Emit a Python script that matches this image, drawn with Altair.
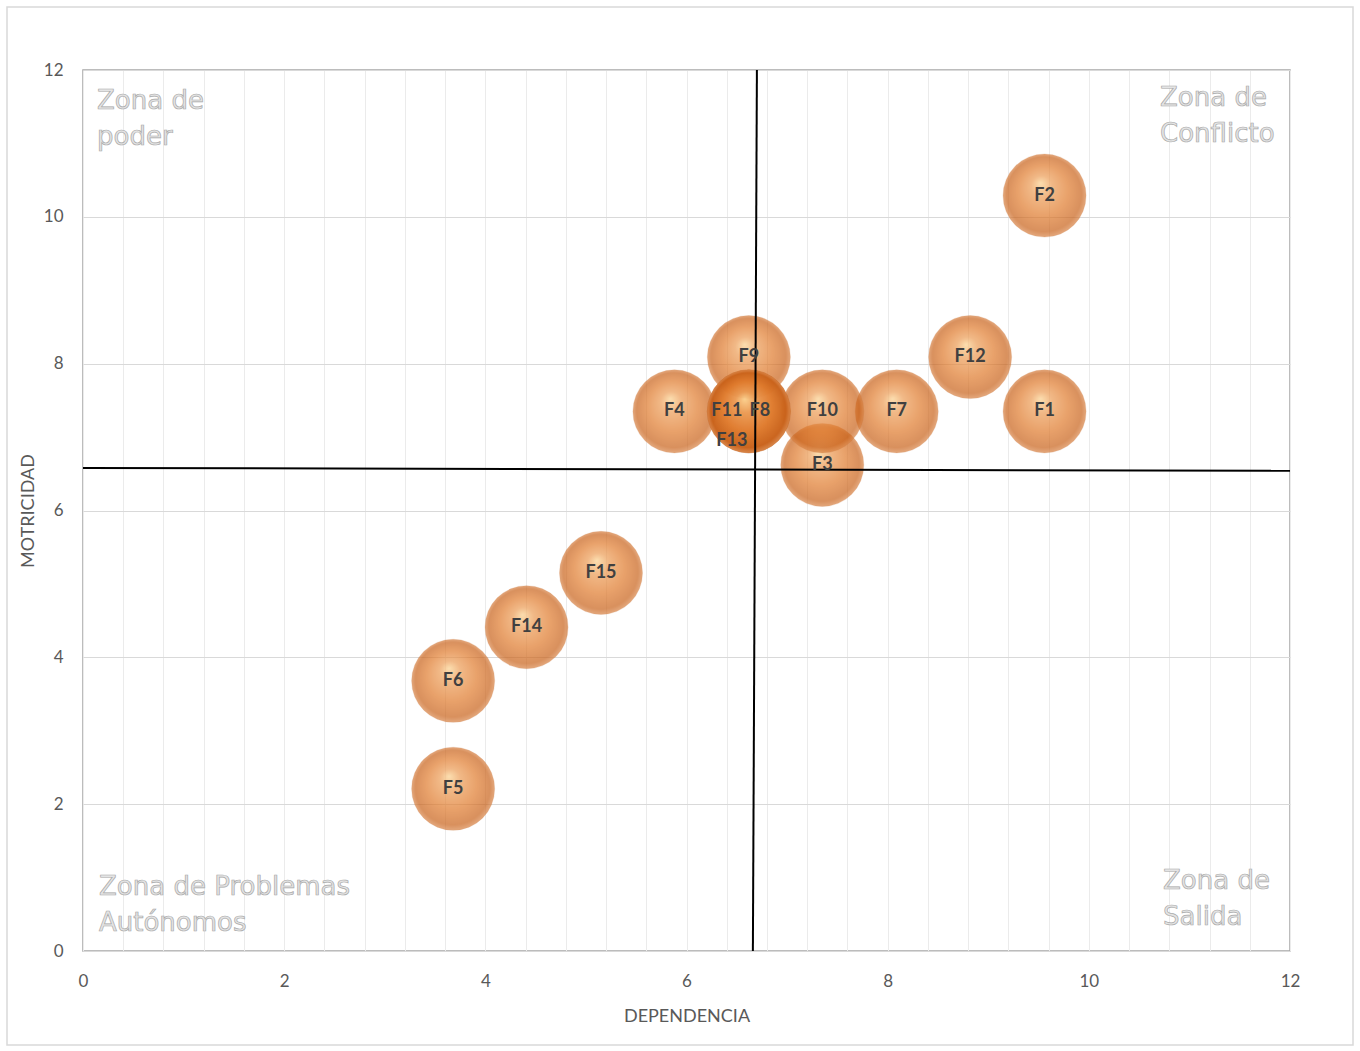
import altair as alt
import pandas as pd

labels = ["F1", "F2", "F3", "F4", "F5", "F6", "F7", "F8", "F9", "F10",
          "F11", "F12", "F13", "F14", "F15"]
dependencia = [9.56, 9.56, 7.35, 5.88, 3.68, 3.68, 8.09, 6.62, 6.62, 7.35,
               6.62, 8.82, 6.62, 4.41, 5.15]
motricidad = [7.35, 10.29, 6.62, 7.35, 2.21, 3.68, 7.35, 7.35, 8.09, 7.35,
              7.35, 8.09, 7.35, 4.41, 5.15]

vline_x = [6.70, 6.66]   # top, bottom
hline_y = [6.58, 6.54]   # left, right

x_grid = [round(i * 0.4, 1) for i in range(31)]
y_ticks = [0, 2, 4, 6, 8, 10, 12]

df = pd.DataFrame({"label": labels, "dep": dependencia, "mot": motricidad})
one = pd.DataFrame({"a": [0]})

FONT = "Lato"

xs = alt.Scale(domain=[0, 12], nice=False, zero=False)
ys = alt.Scale(domain=[0, 12], nice=False, zero=False)

base = alt.Chart(df)

grad = {
    "gradient": "radial",
    "x1": 0.45, "y1": 0.35, "r1": 0.0,
    "x2": 0.5, "y2": 0.5, "r2": 0.5,
    "stops": [
        {"offset": 0.0, "color": "#fbd08e"},
        {"offset": 0.25, "color": "#ec9c55"},
        {"offset": 0.6, "color": "#e07b2d"},
        {"offset": 0.9, "color": "#c9621a"},
        {"offset": 1.0, "color": "#d98446"},
    ],
}

bubbles = base.mark_point(
    shape="circle", filled=True, size=6900, fill=grad, opacity=0.7,
    stroke="#c06020", strokeWidth=0.5, strokeOpacity=0.4
).encode(
    x=alt.X("dep:Q", scale=xs, axis=alt.Axis(
        values=x_grid, title="DEPENDENCIA", grid=True, gridColor="#ebebeb",
        gridWidth=1, ticks=False, domain=False,
        labelFlush=False, labelOverlap=False,
        labelExpr="abs(datum.value - round(datum.value / 2) * 2) < 0.001 ? format(datum.value, 'd') : ''",
        labelFontSize=17, labelColor="#595959", labelFont=FONT, labelPadding=22,
        titleFontSize=18, titleColor="#595959", titleFont=FONT, titleFontWeight="normal",
        titlePadding=18)),
    y=alt.Y("mot:Q", scale=ys, axis=alt.Axis(
        values=y_ticks, title="MOTRICIDAD", grid=True, gridColor="#d9d9d9",
        gridWidth=1, ticks=False, domain=False, format="d",
        labelFlush=False, labelOverlap=False,
        labelFontSize=17, labelColor="#595959", labelFont=FONT, labelPadding=20,
        titleFontSize=18, titleColor="#595959", titleFont=FONT, titleFontWeight="normal",
        titlePadding=6)),
)

special = ["F11", "F8", "F13"]
main_labels = base.transform_filter(
    ~alt.FieldOneOfPredicate(field="label", oneOf=special)
).mark_text(font=FONT, fontWeight="bold", fontSize=18, color="#404040").encode(
    x=alt.X("dep:Q", scale=xs), y=alt.Y("mot:Q", scale=ys), text="label:N")

def special_label(name, dx, dy):
    return base.transform_filter(alt.datum.label == name).mark_text(
        font=FONT, fontWeight="bold", fontSize=18, color="#404040", dx=dx, dy=dy
    ).encode(x=alt.X("dep:Q", scale=xs), y=alt.Y("mot:Q", scale=ys), text="label:N")

lab11 = special_label("F11", -22, 0)
lab8 = special_label("F8", 11, 0)
lab13 = special_label("F13", -17, 30)

vline = alt.Chart(one).mark_rule(color="#000000", strokeWidth=2).encode(
    x=alt.datum(vline_x[0], scale=xs), y=alt.datum(12, scale=ys),
    x2=alt.datum(vline_x[1]), y2=alt.datum(0))
hline = alt.Chart(one).mark_rule(color="#000000", strokeWidth=2).encode(
    x=alt.datum(0, scale=xs), y=alt.datum(hline_y[0], scale=ys),
    x2=alt.datum(12), y2=alt.datum(hline_y[1]))

def zone(lines, px, py):
    return alt.Chart(one).mark_text(
        text=lines, align="left", baseline="middle", font="DejaVu Sans", fontSize=26,
        lineHeight=36, fill="#e4e4e4", stroke="#a9a9a9", strokeWidth=0.7
    ).encode(x=alt.value(px), y=alt.value(py))

z1 = zone(["Zona de", "poder"], 14, 31)
z2 = zone(["Zona de", "Conflicto"], 1077, 28)
z3 = zone(["Zona de Problemas", "Autónomos"], 16, 817)
z4 = zone(["Zona de", "Salida"], 1080, 811)

outer = alt.Chart(one).mark_rect(
    fill="transparent", stroke="#d9d9d9", strokeWidth=1.5
).encode(x=alt.value(-76), x2=alt.value(1270), y=alt.value(-63), y2=alt.value(975))

chart = alt.layer(
    outer, bubbles, vline, hline, main_labels, lab11, lab8, lab13, z1, z2, z3, z4
).properties(
    width=1207, height=881,
    autosize=alt.AutoSizeParams(type="none"),
    padding={"left": 83, "top": 70, "right": 70, "bottom": 100},
    background="white",
).configure_view(stroke="#a6a6a6", strokeWidth=1.5)

chart.save("out.html", embed_options={"renderer": "svg", "actions": False})
